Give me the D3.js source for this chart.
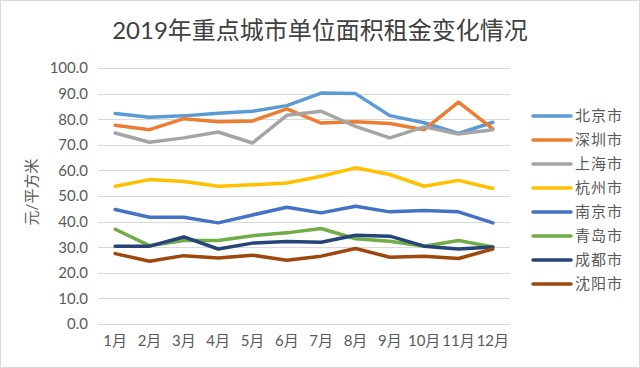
<!DOCTYPE html>
<html>
<head>
<meta charset="utf-8">
<script src="https://cdn.jsdelivr.net/npm/d3@7"></script>
<style>
  body { margin: 0; background: #fff; }
  text { font-family: Lato, "Noto Sans CJK SC", sans-serif; }
</style>
</head>
<body>
<div id="chart"></div>
<script>
// data
var months = ["1月","2月","3月","4月","5月","6月","7月","8月","9月","10月","11月","12月"];
var cities = ["北京市","深圳市","上海市","杭州市","南京市","青岛市","成都市","沈阳市"];
var colors = ["#5B9BD5","#ED7D31","#A5A5A5","#FFC000","#4472C4","#70AD47","#264478","#9E480E"];
var yTicks = [0,10,20,30,40,50,60,70,80,90,100];

var beijing  = [82.2, 80.8, 81.3, 82.3, 83.1, 85.3, 90.2, 90.0, 81.4, 78.6, 74.4, 78.8];
var shenzhen = [77.6, 75.9, 80.2, 79.0, 79.3, 84.0, 78.5, 79.0, 78.3, 75.9, 86.7, 76.2];
var shanghai = [74.6, 71.0, 72.7, 75.0, 70.7, 81.5, 83.1, 77.2, 72.7, 77.0, 74.2, 75.9];
var hangzhou = [53.8, 56.4, 55.7, 53.8, 54.4, 55.1, 57.7, 61.0, 58.4, 53.8, 56.1, 52.9];
var nanjing  = [44.7, 41.7, 41.7, 39.5, 42.6, 45.6, 43.4, 46.0, 43.8, 44.3, 43.8, 39.5];
var qingdao  = [37.0, 30.6, 32.6, 32.6, 34.5, 35.6, 37.3, 33.3, 32.3, 30.4, 32.6, 30.1];
var chengdu  = [30.4, 30.4, 34.0, 29.3, 31.6, 32.2, 31.9, 34.7, 34.3, 30.4, 29.3, 30.1];
var shenyang = [27.5, 24.5, 26.7, 25.8, 26.9, 24.9, 26.5, 29.5, 26.1, 26.5, 25.6, 29.3];
var series = [beijing, shenzhen, shanghai, hangzhou, nanjing, qingdao, chengdu, shenyang];

var W = 640, H = 368;
var margin = {top: 68, right: 130, bottom: 44, left: 98};
var width = W - margin.left - margin.right,
    height = H - margin.top - margin.bottom;

var svg = d3.select("#chart")
    .append("svg")
    .attr("width", W)
    .attr("height", H);

// frame
svg.append("rect")
    .attr("x", 0.5).attr("y", 0.5)
    .attr("width", W - 1).attr("height", H - 1)
    .attr("fill", "#fff")
    .attr("stroke", "#d9d9d9");

// title
svg.append("text")
    .attr("x", 320)
    .attr("y", 39)
    .attr("text-anchor", "middle")
    .style("font-size", "24px")
    .style("fill", "#404040")
    .text("2019年重点城市单位面积租金变化情况");

var g = svg.append("g")
    .attr("transform", "translate(" + margin.left + "," + margin.top + ")");

var x = d3.scaleBand()
    .domain(months)
    .range([0, width]);

var y = d3.scaleLinear()
    .domain([0, 100])
    .range([height, 0]);

// gridlines
g.append("g")
    .selectAll("line")
    .data(yTicks)
    .enter()
    .append("line")
    .attr("x1", 0)
    .attr("x2", width)
    .attr("y1", function(d) { return Math.round(y(d)) + 0.5; })
    .attr("y2", function(d) { return Math.round(y(d)) + 0.5; })
    .attr("stroke", "#d9d9d9")
    .attr("stroke-width", 1);

// Y axis
var yAxis = g.append("g")
    .call(d3.axisLeft(y).tickValues(yTicks).tickFormat(d3.format(".1f")).tickSize(0).tickPadding(10));
yAxis.select(".domain").remove();
yAxis.selectAll("text")
    .style("font-size", "15px")
    .style("fill", "#595959");

// X axis
var xAxis = g.append("g")
    .attr("transform", "translate(0," + height + ")")
    .call(d3.axisBottom(x).tickSize(0).tickPadding(11));
xAxis.select(".domain").remove();
xAxis.selectAll("text")
    .style("font-size", "15px")
    .style("fill", "#595959");

// y axis title
svg.append("text")
    .attr("transform", "translate(37," + (margin.top + height / 2 - 4) + ") rotate(-90)")
    .attr("text-anchor", "middle")
    .style("font-size", "15px")
    .style("fill", "#595959")
    .text("元/平方米");

// lines
var line = d3.line()
    .x(function(d, i) { return x(months[i]) + x.bandwidth() / 2; })
    .y(function(d) { return y(d); });

g.selectAll(".city")
    .data(series)
    .enter()
    .append("path")
    .attr("class", "city")
    .attr("d", line)
    .attr("fill", "none")
    .attr("stroke", function(d, i) { return colors[i]; })
    .attr("stroke-width", 3.5)
    .attr("stroke-linejoin", "round")
    .attr("stroke-linecap", "round");

// legend
var legend = svg.append("g")
    .attr("transform", "translate(533,116)");

var item = legend.selectAll(".item")
    .data(cities)
    .enter()
    .append("g")
    .attr("class", "item")
    .attr("transform", function(d, i) { return "translate(0," + (i * 24) + ")"; });

item.append("line")
    .attr("x1", 0).attr("x2", 38)
    .attr("y1", 0).attr("y2", 0)
    .attr("stroke", function(d, i) { return colors[i]; })
    .attr("stroke-width", 3.5)
    .attr("stroke-linecap", "round");

item.append("text")
    .attr("x", 42)
    .attr("y", 0)
    .attr("dy", "0.35em")
    .style("font-size", "15px")
    .style("letter-spacing", "1px")
    .style("fill", "#595959")
    .text(function(d) { return d; });
</script>
</body>
</html>
